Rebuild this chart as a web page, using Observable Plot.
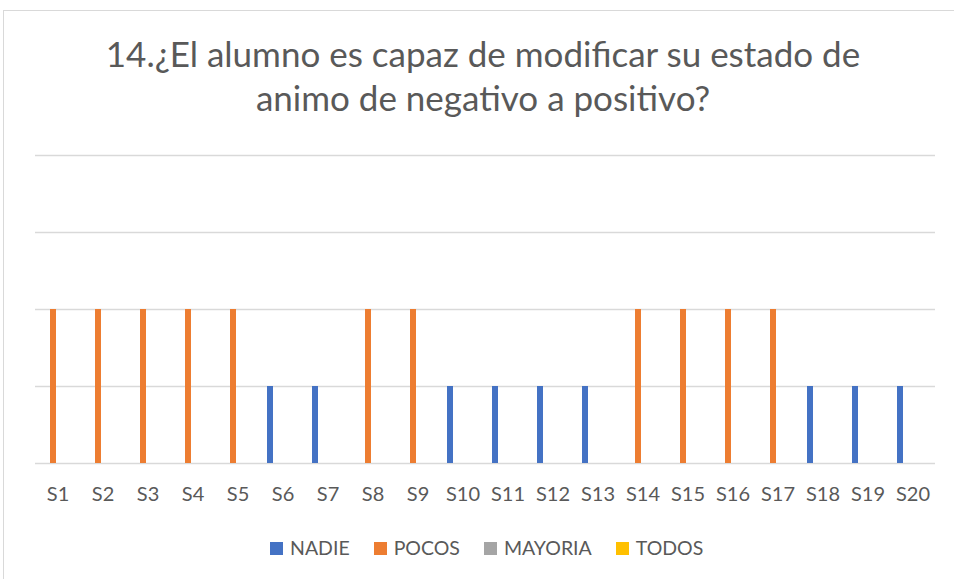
<!DOCTYPE html>
<html><head><meta charset="utf-8">
<script src="https://cdn.jsdelivr.net/npm/d3@7"></script>
<script src="https://cdn.jsdelivr.net/npm/@observablehq/plot@0.6"></script>
<style>
body{margin:0;background:#fff;font-family:Lato,"Open Sans",sans-serif;overflow:hidden;}
#frame{position:absolute;left:3px;top:10px;width:960px;height:580px;border:1px solid #d9d9d9;box-sizing:border-box;}
#title{position:absolute;left:0;top:31px;width:966px;text-align:center;font-size:35px;color:#595959;line-height:44px;}
#chart{position:absolute;left:0;top:140px;}
#legend{position:absolute;top:538px;left:270px;display:flex;align-items:center;font-size:19.5px;color:#595959;line-height:20px;}
#legend .item{display:flex;align-items:center;margin-right:24px;}
#legend .sw{width:13px;height:13px;margin-right:7px;}
</style></head>
<body>
<div id="frame"></div>
<div id="title">14.¿El alumno es capaz de modificar su estado de<br>animo de negativo a positivo?</div>
<div id="chart"></div>
<div id="legend"></div>
<script>
const categories = ["S1","S2","S3","S4","S5","S6","S7","S8","S9","S10","S11","S12","S13","S14","S15","S16","S17","S18","S19","S20"];
const series = ["NADIE","POCOS","MAYORIA","TODOS"];
const colors = ["#4472C4","#ED7D31","#A5A5A5","#FFC000"];
const nadie   = [0,0,0,0,0,1,1,0,0,1,1,1,1,0,0,0,0,1,1,1];
const pocos   = [2,2,2,2,2,0,0,2,2,0,0,0,0,2,2,2,2,0,0,0];
const mayoria = [0,0,0,0,0,0,0,0,0,0,0,0,0,0,0,0,0,0,0,0];
const todos   = [0,0,0,0,0,0,0,0,0,0,0,0,0,0,0,0,0,0,0,0];
const gridValues = [0,1,2,3,4];

const seriesValues = [nadie, pocos, mayoria, todos];
const data = categories.flatMap((c, i) => series.map((s, j) => ({cat: c, serie: s, value: seriesValues[j][i]})));

const chart = Plot.plot({
  width: 954, height: 380,
  marginLeft: 35, marginRight: 19, marginTop: 15, marginBottom: 57,
  style: {fontFamily: "Lato, 'Open Sans', sans-serif", fontSize: "20px", color: "#595959", background: "transparent"},
  fx: {domain: categories, padding: 0, label: null},
  x: {domain: series, axis: null, paddingInner: 0.19, paddingOuter: 0.9},
  y: {domain: [0, 4], axis: null},
  color: {domain: series, range: colors},
  marks: [
    Plot.ruleY(gridValues, {stroke: "#d9d9d9", strokeWidth: 1.5}),
    Plot.barY(data, {fx: "cat", x: "serie", y: "value", fill: "serie"}),
    Plot.axisFx({anchor: "bottom", tickSize: 0, tickPadding: 23, fontSize: 20, label: null, fill: "#595959"})
  ]
});
document.getElementById("chart").appendChild(chart);

const legend = document.getElementById("legend");
series.forEach((s, i) => {
  const it = document.createElement("div");
  it.className = "item";
  const sw = document.createElement("div");
  sw.className = "sw";
  sw.style.background = colors[i];
  const t = document.createElement("span");
  t.textContent = s;
  it.appendChild(sw); it.appendChild(t);
  legend.appendChild(it);
});
</script>
</body></html>
